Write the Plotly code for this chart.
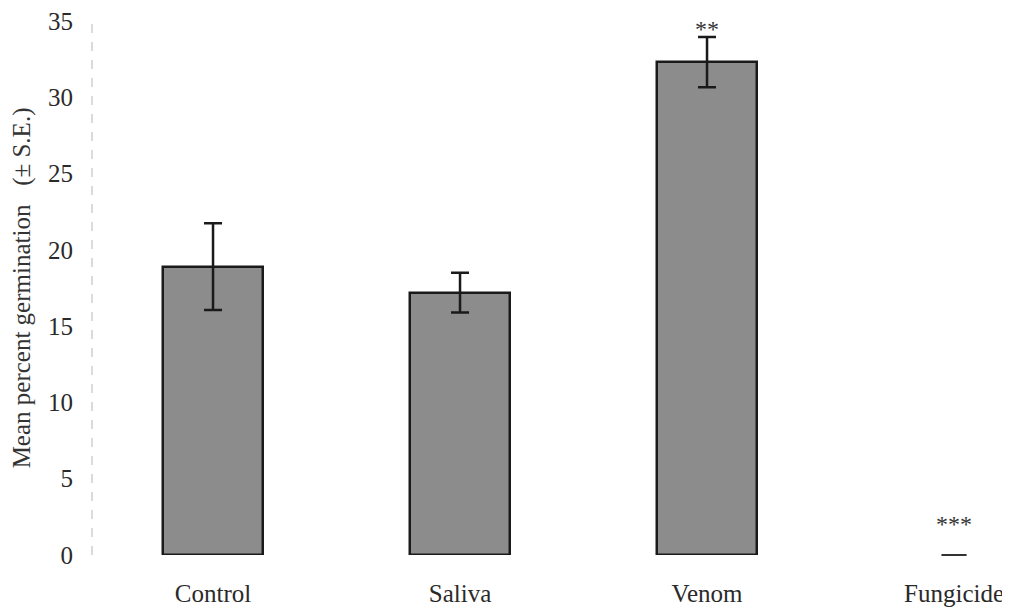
import plotly.graph_objects as go

# data
categories = ["Control", "Saliva", "Venom", "Fungicide"]
means = [18.9, 17.2, 32.3, 0]
se = [2.85, 1.3, 1.65, 0]
marks = ["", "", "**", "***"]
mark_y = [0, 0, 34.35, 1.9]

xs = list(range(len(categories)))

fig = go.Figure()

# bars with error bars
fig.add_trace(go.Bar(
    x=xs[:3], y=means[:3],
    width=0.405,
    marker=dict(color="#8c8c8c", line=dict(color="#1a1a1a", width=2.5)),
    error_y=dict(type="data", array=se[:3], color="#1a1a1a", thickness=2.5, width=9),
    showlegend=False,
))

# fungicide: zero, drawn as short dash
fig.add_trace(go.Scatter(
    x=[xs[3]], y=[means[3]], mode="markers",
    marker=dict(symbol="line-ew-open", size=18, color="#333",
                line=dict(color="#333", width=2)),
    showlegend=False, cliponaxis=False,
))

# significance asterisks
fig.add_trace(go.Scatter(
    x=xs[2:], y=mark_y[2:], mode="text", text=marks[2:],
    textfont=dict(family="Liberation Serif", size=24, color="#333"),
    showlegend=False, cliponaxis=False,
))

# faint dashed y axis line
fig.add_shape(type="line", xref="paper", yref="y", x0=0, x1=0, y0=0, y1=35,
              line=dict(color="#cfcfcf", width=1.5, dash="dash"))

# y axis title
fig.add_annotation(
    text="Mean percent germination&nbsp;&nbsp;&nbsp;(± S.E.)",
    xref="paper", yref="paper", x=-0.0752, y=0.5, xanchor="center", yanchor="middle",
    textangle=-90, showarrow=False,
    font=dict(family="Liberation Serif", size=25, color="#333"),
)

fig.update_layout(
    width=1010, height=610,
    margin=dict(l=84, r=0, t=13, b=63),
    plot_bgcolor="white", paper_bgcolor="white",
    font=dict(family="Liberation Serif", size=26, color="#2a2a2a"),
    bargap=0,
)
fig.update_xaxes(
    tickvals=xs, ticktext=categories,
    range=[-0.49, 3.259],
    showgrid=False, zeroline=False, showline=False,
    ticks="", ticklabelstandoff=21, automargin=False,
    ticklabeloverflow="allow",
    tickfont=dict(size=25),
)
fig.update_yaxes(
    range=[0, 35], dtick=5,
    showgrid=False, zeroline=False, showline=False,
    ticks="", ticklabelstandoff=18, automargin=False,
    ticklabeloverflow="allow",
    tickfont=dict(size=25),
)

fig.write_html("out.html")
